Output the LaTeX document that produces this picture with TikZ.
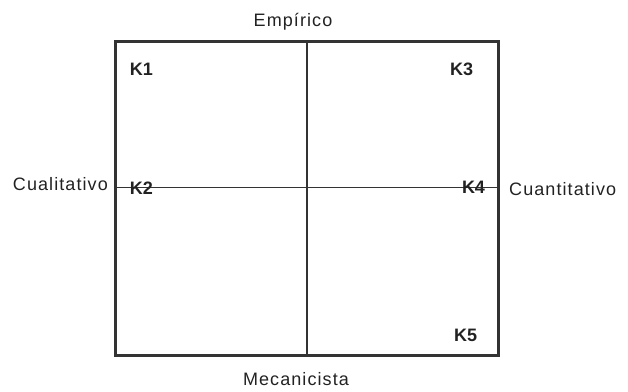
\documentclass[tikz,border=0pt]{standalone}
\usepackage{fontspec}
\setmainfont{Liberation Sans}
\newfontfamily\axisfont[LetterSpace=6]{Liberation Sans}
\usepackage{xcolor}
\usepackage{tikz}
\usetikzlibrary{positioning}

\definecolor{linegray}{HTML}{333333}
\definecolor{textgray}{HTML}{222222}

\tikzset{
  axislabel/.style={inner sep=0pt, text=textgray, font=\axisfont\fontsize{18}{20}\selectfont},
  quadlabel/.style={inner sep=0pt, text=textgray, font=\bfseries\fontsize{18}{20}\selectfont},
}

\begin{document}
\begin{tikzpicture}[x=1pt, y=-1pt]
  \useasboundingbox (0,0) rectangle (628,391);
  % ---- frame and cross ----
  \coordinate (nw) at (115,41.5);
  \coordinate (se) at (498,355);
  \coordinate (top) at (307,41.5);
  \coordinate (bot) at (307,355);
  \coordinate (lft) at (115,187.5);
  \coordinate (rgt) at (498,187.5);
  \draw[linegray, line width=1.4pt] (top) -- (bot);
  \draw[linegray, line width=1.4pt] (lft) -- (rgt);
  \draw[linegray, line width=3pt] (nw) rectangle (se);
  % ---- axis labels ----
  \node[axislabel, anchor=base] (emp) at (293,26) {Empírico};
  \node[axislabel, anchor=base] (mec) at (296,385.7) {Mecanicista};
  \node[axislabel, anchor=base east] (cual) at (108,190.5) {Cualitativo};
  \node[axislabel, anchor=base west] (cuan) at (509,195) {Cuantitativo};
  % ---- quadrant labels ----
  \node[quadlabel, anchor=base] (k1) at (141.5,75) {K1};
  \node[quadlabel, anchor=base] (k2) at (141.5,194) {K2};
  \node[quadlabel, anchor=base] (k3) at (461.5,75) {K3};
  \node[quadlabel, anchor=base] (k4) at (473.5,193.5) {K4};
  \node[quadlabel, anchor=base] (k5) at (465.5,341.7) {K5};
\end{tikzpicture}
\end{document}
